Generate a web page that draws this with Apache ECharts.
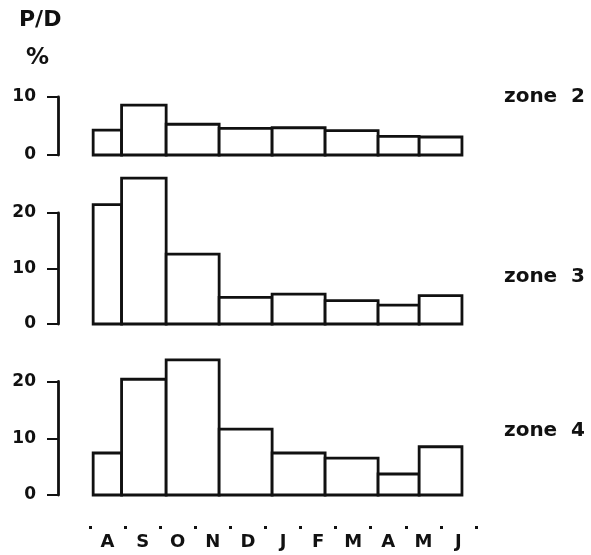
<!DOCTYPE html>
<html>
<head>
<meta charset="utf-8">
<script src="https://cdn.jsdelivr.net/npm/echarts@6/dist/echarts.min.js"></script>
<style>
  html, body { margin: 0; background: #fff; }
  #chart { width: 591px; height: 555px; }
</style>
</head>
<body>
<div id="chart"></div>
<script>
// months, Aug -> Jun
const months = ["A", "S", "O", "N", "D", "J", "F", "M", "A", "M", "J"];
// sampling period edges, in month units (0 = start of A)
const binEdges = [0.09, 0.90, 2.17, 3.68, 5.19, 6.70, 8.21, 9.38, 10.60];
// P/D % per period
const zone2 = [4.3, 8.6, 5.3, 4.6, 4.7, 4.2, 3.2, 3.1];
const zone3 = [21.5, 26.3, 12.6, 4.8, 5.4, 4.2, 3.4, 5.1];
const zone4 = [7.4, 20.4, 23.8, 11.6, 7.4, 6.5, 3.7, 8.5];
const zoneNames = ["zone  2", "zone  3", "zone  4"];
const yMax = [10, 20, 20];

const FONT = "DejaVu Sans";
const INK = "#111";

const chart = echarts.init(document.getElementById("chart"));

// panel layout (grid top / bottom in px)
const grids = [
  { left: 90, right: 115, top: 97, bottom: 400 },
  { left: 90, right: 115, top: 213, bottom: 231 },
  { left: 90, right: 115, top: 381.5, bottom: 60 }
];

function renderBin(params, api) {
  const p0 = api.coord([api.value(0), 0]);
  const p1 = api.coord([api.value(1), api.value(2)]);
  return {
    type: "rect",
    shape: { x: p0[0], y: p1[1], width: p1[0] - p0[0], height: p0[1] - p1[1] },
    style: { fill: "#fff", stroke: INK, lineWidth: 2.8 }
  };
}

const zones = [zone2, zone3, zone4];

const xAxes = zones.map((z, i) => ({
  type: "value", gridIndex: i, min: 0, max: 11, show: false
}));
// month labels with boundary dots under the bottom panel
xAxes.push({
  type: "category", gridIndex: 2, data: months, position: "bottom",
  offset: 31, boundaryGap: true,
  axisLine: { show: false, onZero: false },
  axisTick: { show: true, length: 3, lineStyle: { color: INK, width: 3 } },
  axisLabel: { color: INK, fontFamily: FONT, fontWeight: "bold", fontSize: 18, margin: 7 }
});

const yAxes = zones.map((z, i) => ({
  type: "value", gridIndex: i, min: 0, max: yMax[i], interval: 10,
  offset: 32,
  axisLine: { show: true, onZero: false, lineStyle: { color: INK, width: 2.8 } },
  axisTick: { show: true, length: 11, lineStyle: { color: INK, width: 2 } },
  axisLabel: { color: INK, fontFamily: FONT, fontWeight: "bold", fontSize: 17, margin: 22 },
  splitLine: { show: false }
}));

const series = zones.map((z, i) => ({
  type: "custom",
  xAxisIndex: i,
  yAxisIndex: i,
  clip: false,
  renderItem: renderBin,
  encode: { x: [0, 1], y: 2 },
  data: z.map((v, k) => [binEdges[k], binEdges[k + 1], v])
}));

const labelY = [97, 277, 431];
const graphic = [
  { type: "text", left: 19, top: 9, style: { text: "P/D", fill: INK, font: "bold 22px " + FONT } },
  { type: "text", left: 26, top: 47, style: { text: "%", fill: INK, font: "bold 23px " + FONT } }
].concat(zoneNames.map((name, i) => ({
  type: "text",
  x: 504, y: labelY[i],
  style: {
    text: name, fill: INK, font: "bold 20px " + FONT,
    textAlign: "left", textVerticalAlign: "middle",
    align: "left", verticalAlign: "middle"
  }
})));

chart.setOption({
  backgroundColor: "#fff",
  animation: false,
  grid: grids,
  xAxis: xAxes,
  yAxis: yAxes,
  series: series,
  graphic: graphic
});
</script>
</body>
</html>
